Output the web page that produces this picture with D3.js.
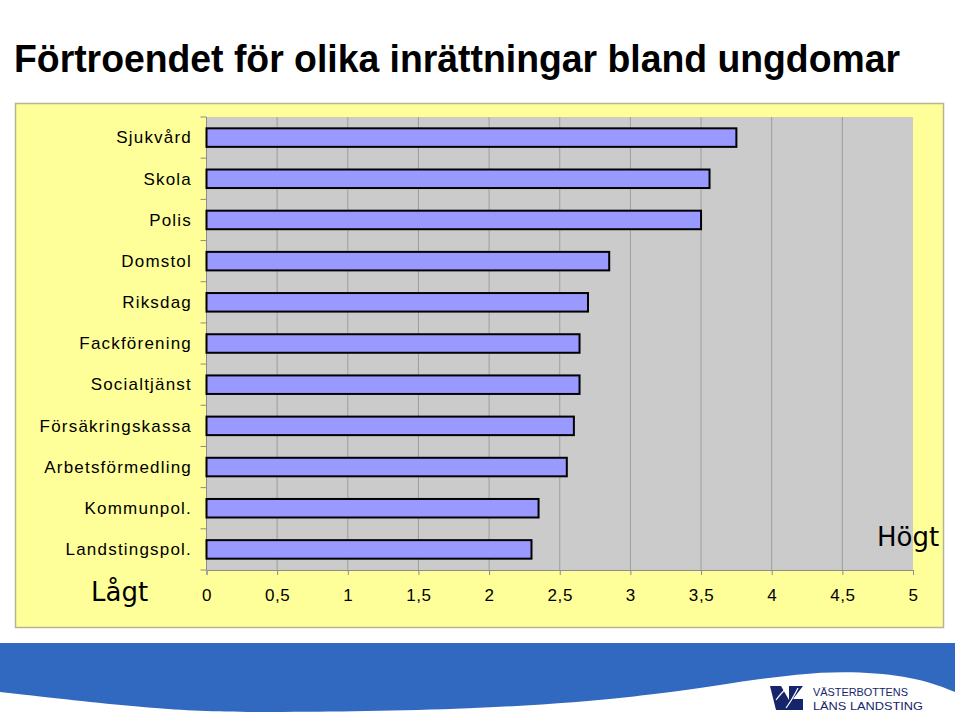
<!DOCTYPE html>
<html>
<head>
<meta charset="utf-8">
<script src="https://cdn.jsdelivr.net/npm/d3@7"></script>
<style>
  body { margin: 0; background: #fff; }
  svg { display: block; }
</style>
</head>
<body>
<svg id="chart" width="960" height="718"></svg>
<script>
const categories = ['Sjukvård', 'Skola', 'Polis', 'Domstol', 'Riksdag', 'Fackförening',
    'Socialtjänst', 'Försäkringskassa', 'Arbetsförmedling', 'Kommunpol.', 'Landstingspol.']
const values = [3.75, 3.56, 3.5, 2.85, 2.7, 2.64, 2.64, 2.6, 2.55, 2.35, 2.3]
const xTicks = [0, 0.5, 1, 1.5, 2, 2.5, 3, 3.5, 4, 4.5, 5]
const titleText = 'Förtroendet för olika inrättningar bland ungdomar'

const svg = d3.select('#chart')

// title
svg.append('text')
    .attr('x', 14)
    .attr('y', 72)
    .attr('textLength', 886)
    .attr('lengthAdjust', 'spacingAndGlyphs')
    .style('font-family', 'Liberation Sans, Arial, sans-serif')
    .style('font-weight', 'bold')
    .style('font-size', '39px')
    .text(titleText)

// yellow chart box
svg.append('rect')
    .attr('x', 15.5).attr('y', 103.5)
    .attr('width', 928).attr('height', 524)
    .attr('fill', '#ffff99')
    .attr('stroke', '#b5b596')
    .attr('stroke-width', 1.5)

const plot = { left: 206.5, right: 913, top: 117, bottom: 570 }

const x = d3.scaleLinear()
    .domain([0, 5])
    .range([plot.left, plot.right])

const y = d3.scaleBand()
    .domain(categories)
    .range([plot.top, plot.bottom])
    .paddingInner(0.55)
    .paddingOuter(0.275)

svg.append('rect')
    .attr('x', plot.left).attr('y', plot.top)
    .attr('width', plot.right - plot.left).attr('height', plot.bottom - plot.top)
    .attr('fill', '#cbcbcb')

// vertical grid
svg.append('g')
    .selectAll('line')
    .data(xTicks.filter(t => t > 0 && t < 5))
    .join('line')
    .attr('x1', d => x(d)).attr('x2', d => x(d))
    .attr('y1', plot.top).attr('y2', plot.bottom)
    .attr('stroke', '#9e9e9e')
    .attr('stroke-width', 1)

// x axis
const xAxis = svg.append('g')
    .attr('transform', `translate(0,${plot.bottom})`)
    .call(d3.axisBottom(x).tickValues(xTicks).tickSize(5).tickPadding(14)
        .tickFormat(d => String(d).replace('.', ',')))
xAxis.select('.domain').attr('stroke', '#8c8c8c')
xAxis.selectAll('.tick line').attr('stroke', '#8c8c8c')
xAxis.selectAll('.tick text')
    .style('font-family', 'Liberation Sans, Arial, sans-serif')
    .style('font-size', '17px')
    .style('letter-spacing', '0.6px')
    .attr('fill', '#000')

// y axis: ticks on band boundaries
const step = y.step()
const boundaries = d3.range(categories.length + 1).map(i => plot.top + i * step)
svg.append('line')
    .attr('x1', plot.left).attr('x2', plot.left)
    .attr('y1', plot.top).attr('y2', plot.bottom)
    .attr('stroke', '#8c8c8c')
svg.append('g')
    .selectAll('line')
    .data(boundaries)
    .join('line')
    .attr('x1', plot.left - 6).attr('x2', plot.left)
    .attr('y1', d => d).attr('y2', d => d)
    .attr('stroke', '#8c8c8c')

svg.append('g')
    .selectAll('text')
    .data(categories)
    .join('text')
    .attr('x', 192)
    .attr('y', d => y(d) + y.bandwidth() / 2)
    .attr('dy', '0.34em')
    .attr('text-anchor', 'end')
    .style('font-family', 'Liberation Sans, Arial, sans-serif')
    .style('font-size', '17px')
    .style('letter-spacing', '1.2px')
    .text(d => d)

// bars
svg.append('g')
    .selectAll('rect')
    .data(categories)
    .join('rect')
    .attr('x', x(0))
    .attr('y', d => y(d))
    .attr('width', (d, i) => x(values[i]) - x(0))
    .attr('height', y.bandwidth())
    .attr('fill', '#9999ff')
    .attr('stroke', '#000')
    .attr('stroke-width', 2)

// Lågt / Högt
svg.append('text')
    .attr('x', 91).attr('y', 601)
    .style('font-family', 'Comic Sans MS, DejaVu Sans, sans-serif')
    .style('font-size', '26px')
    .text('Lågt')
svg.append('text')
    .attr('x', 877).attr('y', 546)
    .style('font-family', 'Comic Sans MS, DejaVu Sans, sans-serif')
    .style('font-size', '26px')
    .text('Högt')

// bottom banner with wave
const wave = [[0, 692], [160, 710], [250, 713], [480, 710], [640, 697], [720, 685],
    [800, 673], [860, 671], [920, 678], [955, 692]]
const line = d3.line().curve(d3.curveBasis)
svg.append('path')
    .attr('d', `M0,643 L955,643 L955,692 ` + line(wave.slice().reverse()).slice(1) + ' Z')
    .attr('fill', '#3169c0')

// logo
const logo = svg.append('g').attr('fill', '#16246b')
logo.append('path').attr('d', 'M770,686 L781,686 L789,700 L789,686 L803,686 L793,699 L803,699 L803,710 L783,710 L780,710 L776,710 Z')
logo.append('path').attr('d', 'M776,700 Q782,692 787,688').attr('stroke', '#fff').attr('stroke-width', 1.2).attr('fill', 'none')
logo.append('path').attr('d', 'M786,708 Q792,700 798,688').attr('stroke', '#fff').attr('stroke-width', 1.2).attr('fill', 'none')
logo.append('text')
    .attr('x', 813).attr('y', 696)
    .attr('textLength', 95).attr('lengthAdjust', 'spacingAndGlyphs')
    .style('font-family', 'Liberation Sans Narrow, Liberation Sans, Arial, sans-serif')
    .style('font-size', '11px')
    .attr('fill', '#16246b')
    .text('VÄSTERBOTTENS')
logo.append('text')
    .attr('x', 813).attr('y', 710)
    .attr('textLength', 110).attr('lengthAdjust', 'spacingAndGlyphs')
    .style('font-family', 'Liberation Sans Narrow, Liberation Sans, Arial, sans-serif')
    .style('font-size', '11px')
    .attr('fill', '#16246b')
    .text('LÄNS LANDSTING')
</script>
</body>
</html>
